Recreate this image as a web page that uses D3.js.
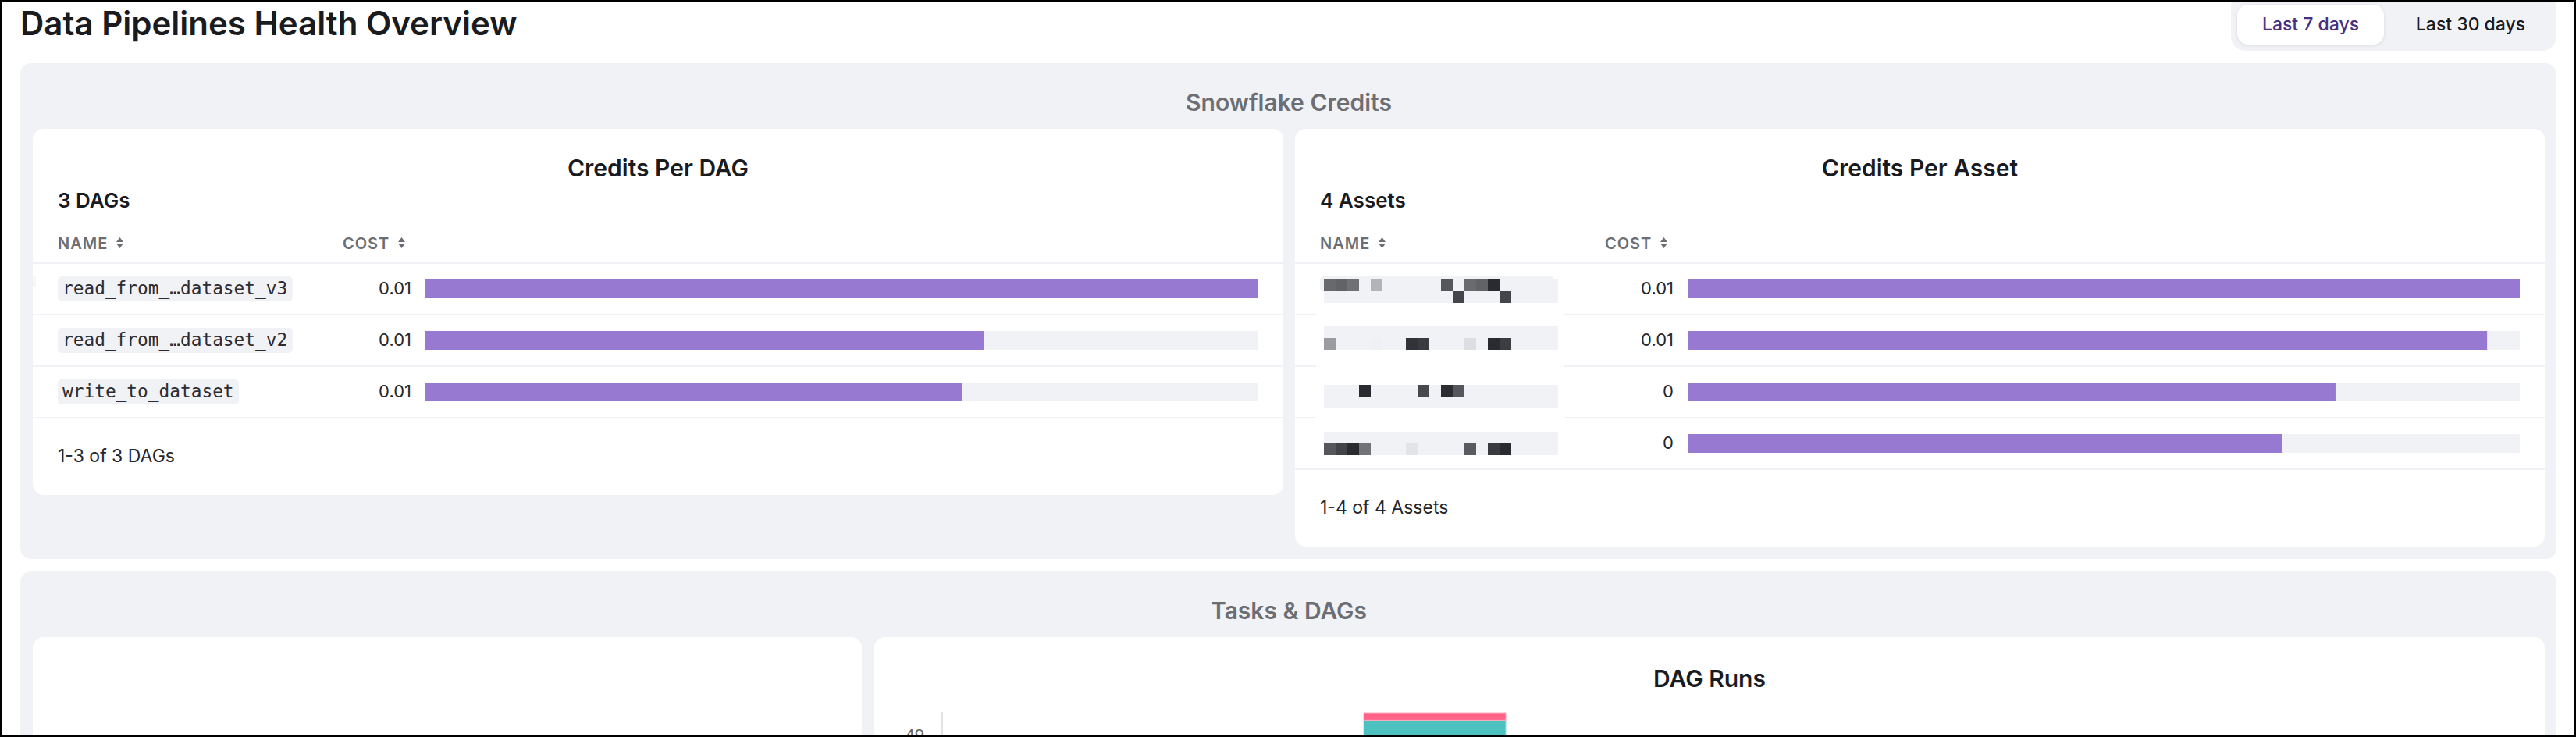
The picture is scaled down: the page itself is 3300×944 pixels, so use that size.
<!DOCTYPE html>
<html>
<head>
<meta charset="utf-8">
<title>Data Pipelines Health Overview</title>
<script src="https://cdn.jsdelivr.net/npm/d3@7"></script>
<style>
  html, body { margin: 0; padding: 0; background: #fff; }
  svg { display: block; }
  text { font-family: Inter, "Noto Sans", sans-serif; }
</style>
</head>
<body>
<script>
const dagNames = ["read_from_…dataset_v3", "read_from_…dataset_v2", "write_to_dataset"];
const dagCredits = [0.0105, 0.00705, 0.00677];

const assetCredits = [0.0056, 0.00538, 0.00436, 0.004];
// obfuscated asset names: darkness of each blurred cell, two lines of 20 cells
const assetPixels = [
  [[.69, .72, .65, 0, .31, 0, 0, 0, 0, 0, .78, 0, .68, .72, 1, 0, 0, 0, 0, 0],
   [0, 0, 0, 0, 0, 0, 0, 0, 0, 0, 0, .87, 0, 0, 0, .87, 0, 0, 0, 0]],
  [[0, 0, 0, 0, 0, 0, 0, 0, 0, 0, 0, 0, 0, 0, 0, 0, 0, 0, 0, 0],
   [.43, 0, 0, 0, .01, 0, 0, .96, .92, 0, 0, 0, .1, 0, 1, .91, 0, 0, 0, 0]],
  [[0, 0, 0, 1, 0, 0, 0, 0, .85, 0, .99, .78, 0, 0, 0, 0, 0, 0, 0, 0],
   [0, 0, 0, 0, 0, 0, 0, 0, 0, 0, 0, 0, 0, 0, 0, 0, 0, 0, 0, 0]],
  [[0, 0, 0, 0, 0, 0, 0, 0, 0, 0, 0, 0, 0, 0, 0, 0, 0, 0, 0, 0],
   [.78, .88, 1, .64, 0, 0, 0, .07, 0, 0, 0, 0, .76, 0, .92, 1, 0, 0, 0, 0]],
];

const runDays = ["peak"];
const runSuccess = [51];
const runFailed = [1];
const runTicks = [49];

const W = 3300, H = 944;
const PANEL = "#f1f2f6", LINE = "#f1f2f6", INK = "#1a1b1f", MUTED = "#6d6e73", PURPLE = "#9779d2";

const svg = d3.select("body").append("svg").attr("width", W).attr("height", H);

function roundedBox(x, y, w, h, r, fill) {
  return svg.append("rect").attr("x", x).attr("y", y).attr("width", w).attr("height", h)
    .attr("rx", r).attr("fill", fill);
}

function label(x, y, str, size, weight, color, anchor) {
  return svg.append("text").attr("x", x).attr("y", y).text(str)
    .attr("font-size", size).attr("font-weight", weight)
    .attr("fill", color).attr("text-anchor", anchor || "start");
}

function sortIcon(x, y) {
  svg.append("path")
    .attr("d", `M${x},${y - 1}l4.5,-6l4.5,6zM${x},${y + 1}l4.5,6l4.5,-6z`)
    .attr("fill", MUTED);
}

// page header
label(26, 45, "Data Pipelines Health Overview", 42, 600, INK);
roundedBox(2858, -10, 417, 75, 18, PANEL);
roundedBox(2866, 6, 188, 51, 14, "#fff").style("filter", "drop-shadow(0 1px 2px rgba(0,0,0,.1))");
label(2960, 39, "Last 7 days", 23, 500, "#47307f", "middle");
label(3165, 39, "Last 30 days", 23, 500, INK, "middle");

// section backgrounds
roundedBox(26, 81, 3249, 635, 14, PANEL);
roundedBox(26, 732, 3249, 240, 14, PANEL);
label(1651, 142, "Snowflake Credits", 30, 600, MUTED, "middle");
label(1651, 793, "Tasks & DAGs", 30, 600, MUTED, "middle");

// table with a name column, a cost column and a bar column
function table(cfg) {
  const { left, right, title, count, noun, values, names } = cfg;
  const n = values.length;
  const rowY = d3.scaleBand().domain(d3.range(n)).range([339, 339 + n * 66]);
  const x = d3.scaleLinear().domain([0, d3.max(values)]).range([0, 1066]);
  const barLeft = left + 503;
  const textLeft = left + 32;

  roundedBox(left, 165, right - left, 271 + n * 66, 14, "#fff");
  label((left + right) / 2, 226, title, 30, 600, INK, "middle");
  label(textLeft, 266, count, 26, 600, INK);

  label(textLeft, 319, "NAME", 20, 600, MUTED).attr("letter-spacing", 1);
  sortIcon(textLeft + 75, 311);
  label(left + 397, 319, "COST", 20, 600, MUTED).attr("letter-spacing", 1);
  sortIcon(left + 468, 311);

  svg.selectAll(null).data(d3.range(n + 1)).join("rect")
    .attr("x", left).attr("width", right - left)
    .attr("y", (i) => 336 + i * 66).attr("height", 2).attr("fill", LINE);

  svg.selectAll(null).data(values).join("rect")
    .attr("x", barLeft).attr("width", 1066)
    .attr("y", (d, i) => rowY(i) + 19).attr("height", 24).attr("fill", PANEL);
  svg.selectAll(null).data(values).join("rect")
    .attr("x", barLeft).attr("width", (d) => x(d))
    .attr("y", (d, i) => rowY(i) + 19).attr("height", 24).attr("fill", PURPLE);

  svg.selectAll(null).data(values).join("text")
    .attr("x", barLeft - 18).attr("y", (d, i) => rowY(i) + 38)
    .attr("text-anchor", "end").attr("font-size", 22).attr("fill", "#26272c")
    .text((d) => Math.round(d * 100) / 100);

  if (names) {
    names.forEach((name, i) => {
      const t = svg.append("text")
        .attr("x", textLeft + 6).attr("y", rowY(i) + 38)
        .attr("font-size", 22.8).attr("fill", "#2c2d32")
        .style("font-family", "'DejaVu Sans Mono', monospace")
        .text(name);
      svg.insert("rect", () => t.node())
        .attr("x", textLeft).attr("y", rowY(i) + 15)
        .attr("width", name.length * 13.75 + 12).attr("height", 32).attr("rx", 5)
        .attr("fill", PANEL);
    });
  }

  label(textLeft, 394 + n * 66, `1-${n} of ${n} ${noun}`, 23, 400, "#26272c");
}

table({
  left: 42, right: 1644, title: "Credits Per DAG", count: "3 DAGs", noun: "DAGs",
  values: dagCredits, names: dagNames,
});
table({
  left: 1659, right: 3260, title: "Credits Per Asset", count: "4 Assets", noun: "Assets",
  values: assetCredits,
});

// small notch left over from the row hover at the edge of the first card
roundedBox(42, 354, 4, 14, 0, "#f6f7f9");

// blurred names of the assets
const cellX = d3.scaleBand().domain(d3.range(20)).range([1696, 1996]);
const cellShade = d3.scaleLinear().domain([0, 1]).range([PANEL, "#2a2b30"]);
const chipTops = [358, 418, 493, 553];

roundedBox(1686, 388, 318, 165, 0, "#fff");
roundedBox(1691, 354, 300, 20, 5, PANEL);
chipTops.forEach((top, i) => {
  const cellY = d3.scaleBand().domain([0, 1]).range([top, top + 30]);
  const cells = assetPixels[i].flatMap((line, r) => line.map((v, c) => ({ v, c, r })));
  svg.selectAll(null).data(cells).join("rect")
    .attr("x", (d) => cellX(d.c)).attr("y", (d) => cellY(d.r))
    .attr("width", cellX.bandwidth()).attr("height", cellY.bandwidth())
    .attr("fill", (d) => cellShade(d.v));
});

// bottom row of cards, cut off by the window
roundedBox(42, 816, 1062, 200, 14, "#fff");
roundedBox(1120, 816, 2140, 200, 14, "#fff");
label(2190, 880, "DAG Runs", 30, 600, INK, "middle");

const runsY = d3.scaleLinear().domain([0, 49]).range([1398, 941]);
const runsX = d3.scaleBand().domain(runDays).range([1747, 1929]);
const runsAxis = d3.axisLeft(runsY).tickValues(runTicks).tickSize(16).tickPadding(7);

svg.append("g").attr("transform", "translate(1207,0)").call(runsAxis)
  .call((g) => g.select(".domain").attr("d", "M0,912V960").attr("stroke", "#e3e3e3").attr("stroke-width", 2))
  .call((g) => g.selectAll(".tick line").attr("x2", 2021).attr("x1", -16).attr("stroke", "#e3e3e3"))
  .call((g) => g.selectAll(".tick text").attr("font-size", 22).attr("fill", "#666")
    .style("font-family", "'Liberation Sans', Arial, sans-serif"));

svg.selectAll(null).data(runDays).join("rect")
  .attr("x", (d) => runsX(d)).attr("width", runsX.bandwidth())
  .attr("y", (d, i) => runsY(runSuccess[i])).attr("height", (d, i) => runsY(0) - runsY(runSuccess[i]))
  .attr("fill", "#4dc0c0").attr("stroke", "#a6dfdf").attr("stroke-width", 1);
svg.selectAll(null).data(runDays).join("rect")
  .attr("x", (d) => runsX(d)).attr("width", runsX.bandwidth())
  .attr("y", (d, i) => runsY(runSuccess[i] + runFailed[i]))
  .attr("height", (d, i) => runsY(runSuccess[i]) - runsY(runSuccess[i] + runFailed[i]))
  .attr("fill", "#ff6387").attr("stroke", "#ffa9bc").attr("stroke-width", 1);

// window frame
svg.append("rect").attr("x", 1).attr("y", 1).attr("width", W - 2).attr("height", H - 2)
  .attr("fill", "none").attr("stroke", "#000").attr("stroke-width", 2);
</script>
</body>
</html>
